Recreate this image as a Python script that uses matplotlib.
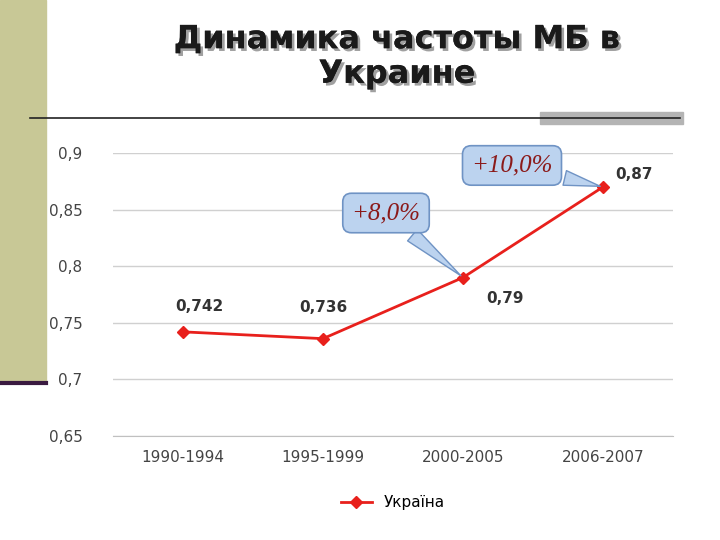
import matplotlib
matplotlib.use("Agg")
import matplotlib.pyplot as plt
import matplotlib.patheffects as pe
from matplotlib.patches import Rectangle
from matplotlib.lines import Line2D

categories = ["1990-1994", "1995-1999", "2000-2005", "2006-2007"]
values = [0.742, 0.736, 0.79, 0.87]
labels = ["0,742", "0,736", "0,79", "0,87"]
yticks = [0.65, 0.7, 0.75, 0.8, 0.85, 0.9]
ytick_labels = ["0,65", "0,7", "0,75", "0,8", "0,85", "0,9"]

fig = plt.figure(figsize=(7.2, 5.4), dpi=100)
fig.patch.set_facecolor("white")

# slide decorations
fig.add_artist(Rectangle((0, 1 - 383/540), 46/720, 383/540, transform=fig.transFigure, color="#c8c896", zorder=0))
fig.add_artist(Line2D([0, 46/720], [1-383/540, 1-383/540], transform=fig.transFigure, color="#3a1a40", lw=3))
fig.add_artist(Line2D([30/720, 680/720], [1-118/540, 1-118/540], transform=fig.transFigure, color="#222222", lw=1.2))
fig.add_artist(Rectangle((540/720, 1-124/540), 143/720, 12/540, transform=fig.transFigure, color="#b4b4b4", zorder=0))

fig.text(397/720, 1 - 57/540, "Динамика частоты МБ в\nУкраине", ha="center", va="center",
         fontsize=23, fontweight="bold", color="#1a1a1a", linespacing=1.15,
         path_effects=[pe.withSimplePatchShadow(offset=(2, -2), shadow_rgbFace="#a0a0a0", alpha=1), pe.Normal()])

ax = fig.add_axes([113/720, 1-436/540, 560/720, 283/540])
x = list(range(len(categories)))
ax.plot(x, values, color="#e8201c", lw=2, marker="D", ms=6, label="Україна", zorder=3)
ax.set_xlim(-0.5, 3.5)
ax.set_ylim(0.65, 0.9)
ax.set_yticks(yticks)
ax.set_yticklabels(ytick_labels, fontsize=11, color="#444444")
ax.set_xticks(x)
ax.set_xticklabels(categories, fontsize=11, color="#444444")
ax.grid(axis="y", color="#d0d0d0", lw=1)
for s in ["top", "right", "left"]:
    ax.spines[s].set_visible(False)
ax.spines["bottom"].set_color("#c0c0c0")
ax.tick_params(length=0, pad=22)
ax.tick_params(axis="x", pad=10)

offsets = [(0.12, 0.0155), (0.0, 0.021), (0.3, -0.012), (0.22, 0.004)]
for xi, v, lab, (dx, dy) in zip(x, values, labels, offsets):
    ax.text(xi + dx, v + dy, lab, ha="center", va="bottom" if dy > 0 else "top", fontsize=11, fontweight="bold", color="#333333")

box = dict(boxstyle="round,pad=0.35", fc="#bcd3ef", ec="#6f93c4", lw=1.2)
arrow = dict(arrowstyle="wedge,tail_width=0.6", fc="#bcd3ef", ec="#6f93c4", lw=1)
ax.annotate("+8,0%", xy=(2, 0.79), xytext=(1.45, 0.847), textcoords="data", ha="center", va="center",
            fontsize=18, family="Liberation Serif", style="italic", color="#8b1a1a", bbox=box, arrowprops=arrow)
ax.annotate("+10,0%", xy=(3, 0.87), xytext=(2.35, 0.889), textcoords="data", ha="center", va="center",
            fontsize=18, family="Liberation Serif", style="italic", color="#8b1a1a", bbox=box, arrowprops=arrow)

ax.legend(loc="upper center", bbox_to_anchor=(0.5, -0.16), frameon=False, fontsize=11)
fig.savefig("out.png", dpi=100)
